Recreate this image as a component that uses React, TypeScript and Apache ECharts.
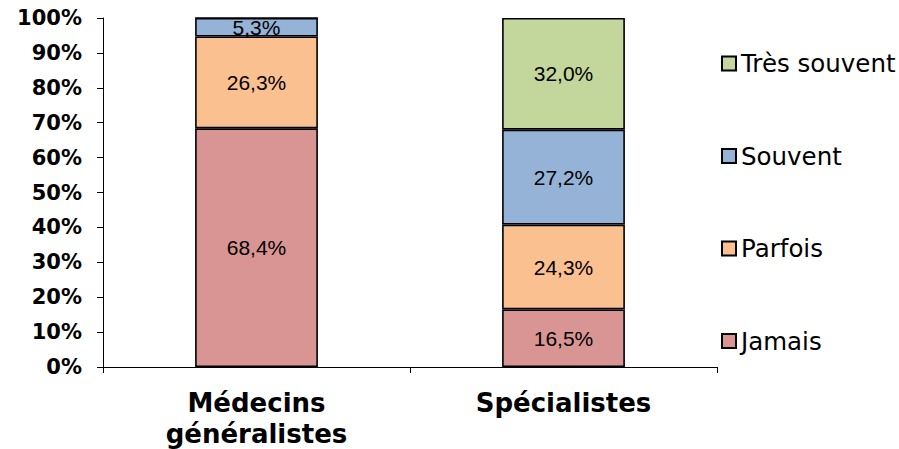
import React, { useEffect, useRef } from "react";
import * as echarts from "echarts";

const categories = ["Médecins\ngénéralistes", "Spécialistes"];
const seriesNames = ["Jamais", "Parfois", "Souvent", "Très souvent"];
const jamais = [68.4, 16.5];
const parfois = [26.3, 24.3];
const souvent = [5.3, 27.2];
const tresSouvent = [0, 32.0];
const colors = ["#D99594", "#FAC090", "#95B3D7", "#C3D69B"];
const yTicks = [0, 10, 20, 30, 40, 50, 60, 70, 80, 90, 100];

export default function App() {
  const ref = useRef<HTMLDivElement>(null);
  useEffect(() => {
    if (!ref.current) return;
    const chart = echarts.init(ref.current, undefined, { renderer: "svg" });
    const values = [jamais, parfois, souvent, tresSouvent];
    chart.setOption({
      animation: false,
      grid: { left: 103, right: 182, top: 18, bottom: 82 },
      legend: {
        orient: "vertical",
        left: 721,
        top: 51,
        padding: 0,
        itemWidth: 14,
        itemHeight: 14,
        itemGap: 67.5,
        icon: "rect",
        data: [...seriesNames].reverse(),
        textStyle: { fontFamily: "DejaVu Sans", fontSize: 24.5, lineHeight: 24, color: "#000" },
      },
      xAxis: {
        type: "category",
        data: categories,
        axisLine: { lineStyle: { color: "#000", width: 1 } },
        axisTick: { show: true, length: 6, lineStyle: { color: "#000" } },
        axisLabel: {
          fontFamily: "DejaVu Sans",
          fontWeight: "bold",
          fontSize: 26,
          color: "#000",
          lineHeight: 31,
          margin: 20,
        },
      },
      yAxis: {
        type: "value",
        min: 0,
        max: 100,
        interval: 10,
        splitLine: { show: false },
        axisLine: { show: true, lineStyle: { color: "#000", width: 1 } },
        axisTick: { show: true, length: 6, lineStyle: { color: "#000" } },
        axisLabel: {
          fontFamily: "DejaVu Sans",
          fontWeight: "bold",
          fontSize: 21,
          color: "#000",
          margin: 21,
          formatter: (v: number) => (yTicks.includes(v) ? v + "%" : ""),
        },
      },
      series: seriesNames.map((name, i) => ({
        name,
        type: "bar",
        stack: "total",
        barWidth: "40%",
        data: values[i],
        itemStyle: { color: colors[i], borderColor: "#000", borderWidth: 1.6 },
        label: {
          show: true,
          position: "inside",
          fontFamily: "Liberation Sans",
          fontSize: 21,
          color: "#000",
          formatter: (p: any) => (p.value === 0 ? "" : p.value.toFixed(1).replace(".", ",") + "%"),
        },
      })),
    });
    return () => chart.dispose();
  }, []);
  return <div ref={ref} style={{ width: 899, height: 449, position: "absolute", left: 0, top: 0 }} />;
}
